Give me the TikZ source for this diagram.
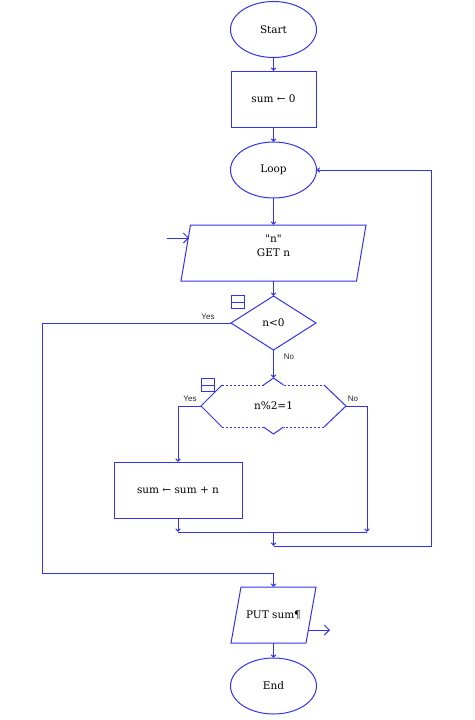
\documentclass[tikz,border=0pt]{standalone}
\usepackage{fontspec}
\setmainfont{DejaVu Serif}[Ligatures=TeXOff]
\newfontfamily\lblfont{Liberation Sans}
\usetikzlibrary{shapes.geometric,arrows.meta,calc}
\definecolor{fc}{RGB}{50,50,240}
\begin{document}
\begin{tikzpicture}[x=1pt,y=-1pt,
  every node/.style={inner sep=0pt, outer sep=0pt},
  txt/.style={font=\fontsize{10.5}{13}\selectfont},
  box/.style={txt, draw=fc, line width=1pt},
  term/.style={box, ellipse, minimum width=86pt, minimum height=56pt},
  proc/.style={box, rectangle, minimum width=85pt, minimum height=56pt},
  io/.style={txt, rectangle, minimum height=56pt},
  dec/.style={box, diamond, minimum width=85pt, minimum height=54pt},
  conn/.style={draw=fc, line width=1pt, -{Straight Barb[length=2.5pt,width=4.5pt]}},
  flow/.style={draw=fc, line width=1pt},
  ioarrow/.style={draw=fc, line width=1pt, -{Straight Barb[length=5pt,width=10pt]}},
  lbl/.style={font=\lblfont\fontsize{8}{9}\selectfont, text=black!85},
  icon/.style={draw=fc, line width=1pt, minimum width=13pt, minimum height=13pt,
    path picture={\draw[fc, line width=1pt] (path picture bounding box.west) -- (path picture bounding box.east);}},
  dotline/.style={draw=fc, line width=1pt, dash pattern=on 2pt off 2pt},
]
\useasboundingbox (0,0) rectangle (474,720);

% nodes
\node[term] (start) at (273.5,29.5) {Start};
\node[proc] (sum0) at (273.5,99) {sum ← 0};
\node[term] (loop) at (273.5,170) {Loop};
\node[io, minimum width=185pt, align=center] (get) at (273.5,253) {"n"\\[1pt]GET n\\[2pt]};
\node[dec] (d1) at (273.5,323) {n<0};
\node[txt, minimum width=145pt, minimum height=56pt] (d2) at (273.5,406) {n\%2=1};
\node[proc, minimum width=128pt] (add) at (178,490) {sum ← sum + n};
\node[io, minimum width=85pt] (put) at (273.5,615) {PUT sum¶};
\node[term] (end) at (273.5,686) {End};

% parallelogram outlines
\draw[flow] ($(get.north west)+(9.5,0)$) -- (get.north east) -- ($(get.south east)+(-9.5,0)$) -- (get.south west) -- cycle;
\draw[flow] ($(put.north west)+(10,0)$) -- (put.north east) -- ($(put.south east)+(-10,0)$) -- (put.south west) -- cycle;

% icons
\node[icon] (ic1) at (238,302) {};
\node[icon] (ic2) at (207.5,385) {};

% second decision outline
\draw[flow] (d2.west) -- (222,385);
\draw[dotline] (222,385) -- (263.5,385);
\draw[flow] (263.5,385) -- (d2.north) -- (283.5,385);
\draw[dotline] (283.5,385) -- (324,385);
\draw[flow] (324,385) -- (d2.east) -- (324,427);
\draw[dotline] (324,427) -- (283.5,427);
\draw[flow] (283.5,427) -- (d2.south) -- (263.5,427);
\draw[dotline] (263.5,427) -- (222,427);
\draw[flow] (222,427) -- (d2.west);

% labels
\node[lbl] (y1) at (208,317) {Yes};
\node[lbl] (n1) at (289,357) {No};
\node[lbl] (y2) at (190,399) {Yes};
\node[lbl] (n2) at (353,399) {No};

% coordinates
\coordinate (yl1) at (42,323);
\coordinate (yl2) at (42,573);
\coordinate (ml) at (178,532);
\coordinate (mr) at (367,532);
\coordinate (mm) at (273.5,532);
\coordinate (mb) at (273.5,546);
\coordinate (rb) at (431,546);
\coordinate (inps) at (167,238);
\coordinate (inpe) at (189,238);
\coordinate (outs) at (308,630);
\coordinate (oute) at (330,630);

% connectors
\draw[conn] (start.south) -- (sum0.north);
\draw[conn] (sum0.south) -- (loop.north);
\draw[conn] (loop.south) -- (get.north);
\draw[conn] (get.south) -- (d1.north);
\draw[conn] (d1.south) -- (d2.north);
\draw[conn] (d1.west) -- (yl1) -- (yl2) -| (put.north);
\draw[conn] (d2.west) -| (add.north);
\draw[conn] (d2.east) -| (mr);
\draw[conn] (add.south) -- (ml);
\draw[flow] (ml) -- (mr);
\draw[conn] (mm) -- (mb);
\draw[conn] (mb) -- (rb) |- (loop.east);
\draw[conn] (put.south) -- (end.north);
\draw[ioarrow] (inps) -- (inpe);
\draw[ioarrow] (outs) -- (oute);
\end{tikzpicture}
\end{document}
